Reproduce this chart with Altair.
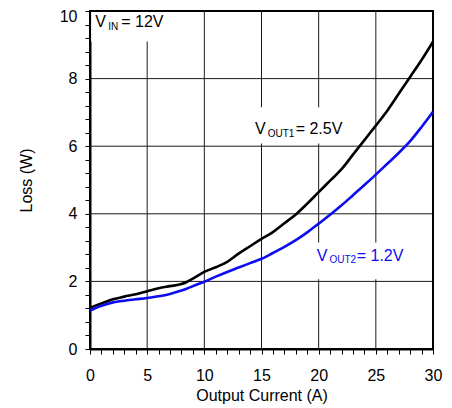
import altair as alt
import pandas as pd

# Data
current = [0, 1, 2, 3, 4, 5, 6, 7, 8, 8.5, 9, 10, 11, 12, 13, 14, 15, 16, 17, 18, 19,
           20, 21, 22, 23, 24, 25, 26, 27, 28, 29, 30]
loss_vout1 = [1.22, 1.35, 1.47, 1.55, 1.62, 1.71, 1.80, 1.86, 1.92, 1.99, 2.08, 2.28, 2.42,
              2.58, 2.82, 3.04, 3.26, 3.46, 3.72, 3.98, 4.30, 4.64, 4.98, 5.32, 5.75, 6.18,
              6.61, 7.05, 7.55, 8.05, 8.55, 9.09]
loss_vout2 = [1.14, 1.28, 1.38, 1.43, 1.47, 1.51, 1.56, 1.63, 1.73, 1.79, 1.86, 1.99, 2.14,
              2.28, 2.41, 2.54, 2.67, 2.84, 3.02, 3.22, 3.45, 3.71, 3.97, 4.25, 4.55, 4.85,
              5.16, 5.48, 5.80, 6.15, 6.57, 7.02]
series_names = ["VOUT1", "VOUT2"]
series_colors = ["#000000", "#0c0cf0"]

x_grid = [5, 10, 15, 20, 25]
x_ticks = list(range(31))
y_grid = [2, 4, 6, 8]
y_ticks = [round(i * 0.4, 1) for i in range(26)]

rows = []
for name, vals in zip(series_names, [loss_vout1, loss_vout2]):
    for c, v in zip(current, vals):
        rows.append({"current": c, "loss": v, "series": name})
df = pd.DataFrame(rows)

XPX = 343 / 30.0
YPX = 338 / 10.0
FONT = "Liberation Sans"

x_scale = alt.Scale(domain=[0, 30], nice=False, zero=False)
y_scale = alt.Scale(domain=[0, 10], nice=False, zero=False)

x_axis = alt.Axis(
    title="Output Current (A)", values=x_ticks,
    labelExpr="datum.value % 5 === 0 ? format(datum.value, 'd') : ''",
    grid=False,
    tickSize=5, tickColor="#000000", tickWidth=1,
    domainColor="#000000", domainWidth=2,
    labelFontSize=16, labelFont=FONT, labelColor="#000000", labelPadding=13,
    labelOverlap=False, labelFlush=False,
    titleFontSize=16, titleFont=FONT, titleFontWeight="normal", titleColor="#000000",
    titlePadding=4, orient="bottom",
)
y_axis = alt.Axis(
    title="Loss (W)", values=y_ticks,
    labelExpr="datum.value % 2 === 0 ? format(datum.value, 'd') : ''",
    labelOffset={"condition": {"test": "datum.value === 10", "value": 5}, "value": 0},
    grid=False,
    tickSize=5, tickColor="#000000", tickWidth=1,
    domainColor="#000000", domainWidth=2,
    labelFontSize=16, labelFont=FONT, labelColor="#000000", labelPadding=8,
    labelOverlap=False, labelFlush=False,
    titleFontSize=16, titleFont=FONT, titleFontWeight="normal", titleColor="#000000",
    titlePadding=25, orient="left",
)

vgrid = alt.Chart(pd.DataFrame({"g": x_grid})).mark_rule(color="#1a1a1a", strokeWidth=1).encode(
    x=alt.X("g:Q", scale=x_scale, axis=None)
)
hgrid = alt.Chart(pd.DataFrame({"g": y_grid})).mark_rule(color="#1a1a1a", strokeWidth=1).encode(
    y=alt.Y("g:Q", scale=y_scale, axis=None)
)

lines = alt.Chart(df).mark_line(strokeWidth=2.6, interpolate="monotone").encode(
    x=alt.X("current:Q", scale=x_scale, axis=x_axis),
    y=alt.Y("loss:Q", scale=y_scale, axis=y_axis),
    color=alt.Color("series:N", scale=alt.Scale(domain=series_names, range=series_colors), legend=None),
)

# white label boxes
boxes = pd.DataFrame([
    {"x": 0.1, "x2": 6.4, "y": 9.1, "y2": 9.97},
    {"x": 13.8, "x2": 22.4, "y": 6.08, "y2": 7.15},
    {"x": 19.3, "x2": 28.0, "y": 2.06, "y2": 3.15},
])
box_layer = alt.Chart(boxes).mark_rect(color="white").encode(
    x=alt.X("x:Q", scale=x_scale, axis=None), x2="x2:Q",
    y=alt.Y("y:Q", scale=y_scale, axis=None), y2="y2:Q",
)

# annotation pieces: (anchor x, baseline y, color, main, sub, rest, sub dx px, rest dx px)
ann = [
    (0.46, 9.52, "#000000", "V", "IN", "= 12V", 13.0, 26.0),
    (14.43, 6.36, "#000000", "V", "OUT1", "= 2.5V", 12.7, 40.7),
    (19.83, 2.61, "#0c0cf0", "V", "OUT2", "= 1.2V", 12.7, 40.0),
]
main_rows, sub_rows = [], []
for ax, ay, col, m, s, r, sdx, rdx in ann:
    main_rows.append({"x": ax, "y": ay, "t": m, "c": col})
    main_rows.append({"x": ax + rdx / XPX, "y": ay, "t": r, "c": col})
    sub_rows.append({"x": ax + sdx / XPX, "y": ay - 2.7 / YPX, "t": s, "c": col})

main_text = alt.Chart(pd.DataFrame(main_rows)).mark_text(
    align="left", baseline="alphabetic", fontSize=16, font=FONT
).encode(
    x=alt.X("x:Q", scale=x_scale, axis=None), y=alt.Y("y:Q", scale=y_scale, axis=None),
    text="t:N", color=alt.Color("c:N", scale=None),
)
sub_text = alt.Chart(pd.DataFrame(sub_rows)).mark_text(
    align="left", baseline="alphabetic", fontSize=10, font=FONT
).encode(
    x=alt.X("x:Q", scale=x_scale, axis=None), y=alt.Y("y:Q", scale=y_scale, axis=None),
    text="t:N", color=alt.Color("c:N", scale=None),
)

chart = alt.layer(vgrid, hgrid, box_layer, lines, main_text, sub_text).resolve_axis(
    x="independent", y="independent"
).properties(
    width=343, height=338,
    autosize=alt.AutoSizeParams(type="none"),
    padding={"left": 82, "top": 3, "right": 10, "bottom": 57},
    background="white",
).configure_view(stroke="#000000", strokeWidth=2)

chart.save("out.html", embed_options={"renderer": "svg", "actions": False})
